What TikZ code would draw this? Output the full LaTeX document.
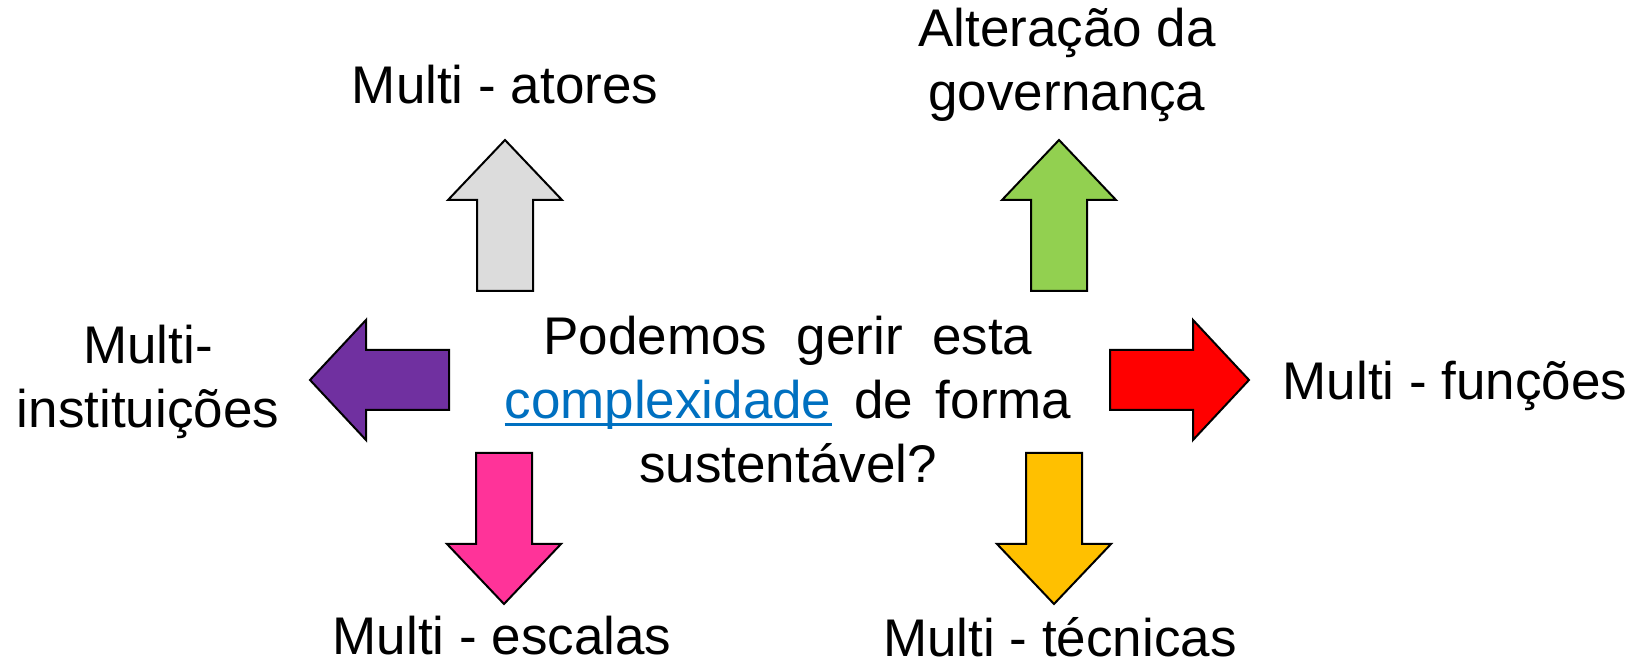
\documentclass[tikz,border=0pt]{standalone}
\usepackage{fontspec}
\setmainfont{Liberation Sans}
\usetikzlibrary{positioning}
\definecolor{greyarrow}{HTML}{DCDCDC}
\definecolor{greenarrow}{HTML}{92D050}
\definecolor{purplearrow}{HTML}{7030A0}
\definecolor{redarrow}{HTML}{FF0000}
\definecolor{pinkarrow}{HTML}{FF3399}
\definecolor{yellowarrow}{HTML}{FFC000}
\definecolor{linkblue}{HTML}{0070C0}
\newcommand{\linkword}[1]{\textcolor{linkblue}{\setbox0\hbox{#1}\rlap{\rule[-7pt]{\wd0}{3pt}}\box0}}
\tikzset{
  arrowline/.style={draw=black, line width=2pt, line join=miter},
  varrow/.pic={\path[arrowline, pic actions] (-28,0) -- (28,0) -- (28,91) -- (57,91) -- (0,151) -- (-57,91) -- (-28,91) -- cycle;},
  harrow/.pic={\path[arrowline, pic actions] (0,-30) -- (0,30) -- (83,30) -- (83,60) -- (139,0) -- (83,-60) -- (83,-30) -- cycle;},
}
\begin{document}
\begin{tikzpicture}[x=1pt,y=1pt]
	\useasboundingbox (0,0) rectangle (1643,666);
		\begin{scope}
			\pic[fill=greyarrow] (atores) at (505,375) {varrow};
			\pic[fill=greenarrow] (gov) at (1059,375) {varrow};
			\pic[fill=pinkarrow, rotate=180] (escalas) at (504,213) {varrow};
			\pic[fill=yellowarrow, rotate=180] (tecnicas) at (1054,213) {varrow};
			\pic[fill=purplearrow, rotate=180] (inst) at (449,286) {harrow};
			\pic[fill=redarrow] (funcoes) at (1110,286) {harrow};
		\end{scope}
		\begin{scope}[every node/.style={align=center, inner sep=0pt, font=\fontsize{53}{64}\selectfont}]
			\node (latores) at (505,581) {Multi - atores};
			\node (lgov) at (1067,601) {Alteração da\\governança};
			\node (linst) at (148,284) {Multi-\\instituições};
			\node (lfuncoes) at (1455,280) {Multi - funções};
			\node (lescalas) at (502,30) {Multi - escalas};
			\node (ltecnicas) at (1060,29) {Multi - técnicas};
			\node (question) at (788,266) {\makebox[489pt][s]{Podemos gerir esta}\\
				\makebox[567pt][s]{\linkword{complexidade} de forma}\\
				sustentável?};
		\end{scope}
\end{tikzpicture}
\end{document}
